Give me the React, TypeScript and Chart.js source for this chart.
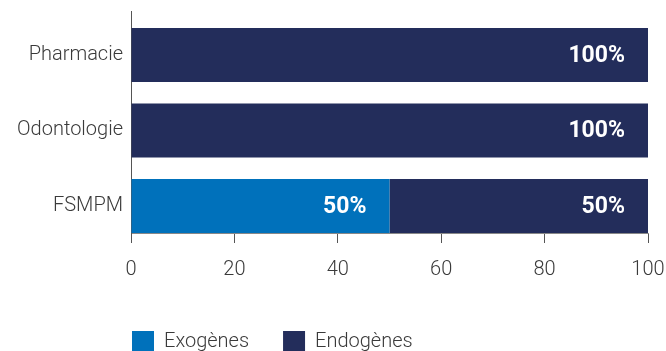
import React, { useEffect, useRef } from "react";
import { Chart, registerables } from "chart.js";

Chart.register(...registerables);

const categories = ["Pharmacie", "Odontologie", "FSMPM"];
const exogenes = [0, 0, 50];
const endogenes = [100, 100, 50];
const xTicks = [0, 20, 40, 60, 80, 100];
const seriesLabels = ["Exogènes", "Endogènes"];
const seriesColors = ["#0071BB", "#232D5B"];

const FONT = "Roboto, 'DejaVu Sans', sans-serif";
const TEXT_COLOR = "#3a3a3a";

const dataLabelPlugin = {
  id: "dataLabels",
  afterDatasetsDraw(chart: any) {
    const ctx = chart.ctx;
    ctx.save();
    ctx.font = `bold 23px ${FONT}`;
    ctx.fillStyle = "#ffffff";
    ctx.textAlign = "right";
    ctx.textBaseline = "middle";
    chart.data.datasets.forEach((ds: any, di: number) => {
      const meta = chart.getDatasetMeta(di);
      meta.data.forEach((el: any, i: number) => {
        const v = ds.data[i].x;
        if (!v) return;
        ctx.fillText(`${v}%`, el.x - 23, el.y + 1);
      });
    });
    ctx.restore();
  },
};

const legendPlacePlugin = {
  id: "legendPlace",
  afterLayout(chart: any) {
    const lg = chart.legend;
    if (!lg) return;
    const pad = lg.options.labels.padding;
    lg.left = chart.chartArea.left + 1 - pad;
    lg.top = chart.height - 20 - pad;
  },
};

export default function App() {
  const ref = useRef<HTMLCanvasElement | null>(null);
  useEffect(() => {
    if (!ref.current) return;
    const chart = new Chart(ref.current, {
      type: "bar",
      data: {
        datasets: [
          {
            label: seriesLabels[0],
            data: exogenes.map((v, i) => ({ x: v, y: i })),
            backgroundColor: seriesColors[0],
          },
          {
            label: seriesLabels[1],
            data: endogenes.map((v, i) => ({ x: v, y: i })),
            backgroundColor: seriesColors[1],
          },
        ],
      },
      options: {
        indexAxis: "y",
        responsive: false,
        animation: false,
        layout: { padding: { top: 11, left: 3, right: 0, bottom: 0 } },
        datasets: { bar: { categoryPercentage: 1, barPercentage: 0.715 } } as any,
        scales: {
          x: {
            type: "linear",
            stacked: true,
            min: 0,
            max: 100,
            offset: false,
            afterBuildTicks: (s: any) => {
              s.ticks = xTicks.map((v) => ({ value: v }));
            },
            ticks: { font: { family: FONT, size: 20, weight: 300 }, color: TEXT_COLOR, padding: 15, maxRotation: 0 },
            grid: { display: true, offset: false, drawOnChartArea: false, drawTicks: true, tickLength: 10, color: "#555555" },
            border: { color: "#888888", width: 1 },
            afterFit: (s: any) => {
              const lh = s.chart.legend ? s.chart.legend.height : 0;
              s.height = s.chart.height - 233 - lh;
              s.paddingRight = 18;
              s.paddingLeft = 0;
            },
          },
          y: {
            type: "linear",
            stacked: true,
            reverse: true,
            offset: false,
            min: -0.583,
            max: 2.358,
            afterBuildTicks: (s: any) => {
              s.ticks = categories.map((_, i) => ({ value: i }));
            },
            ticks: {
              callback: (v: any) => categories[v],
              font: { family: FONT, size: 20, weight: 300 },
              color: TEXT_COLOR,
              padding: 8,
            },
            grid: { display: false, drawTicks: false, offset: false },
            border: { color: "#555555", width: 1 },
            afterFit: (s: any) => {
              s.width = 128;
              s.paddingTop = 0;
              s.paddingBottom = 0;
            },
          },
        },
        plugins: {
          legend: {
            position: "bottom",
            align: "start",
            labels: {
              boxWidth: 22,
              boxHeight: 22,
              padding: 34,
              font: { family: FONT, size: 20, weight: 300 },
              color: TEXT_COLOR,
            },
          },
          tooltip: { enabled: false },
        },
      } as any,
      plugins: [dataLabelPlugin, legendPlacePlugin],
    });
    return () => chart.destroy();
  }, []);
  return (
    <div style={{ position: "absolute", left: 0, top: 0, width: 666, height: 351, background: "#fff" }}>
      <canvas ref={ref} width={666} height={351} style={{ display: "block" }} />
    </div>
  );
}
